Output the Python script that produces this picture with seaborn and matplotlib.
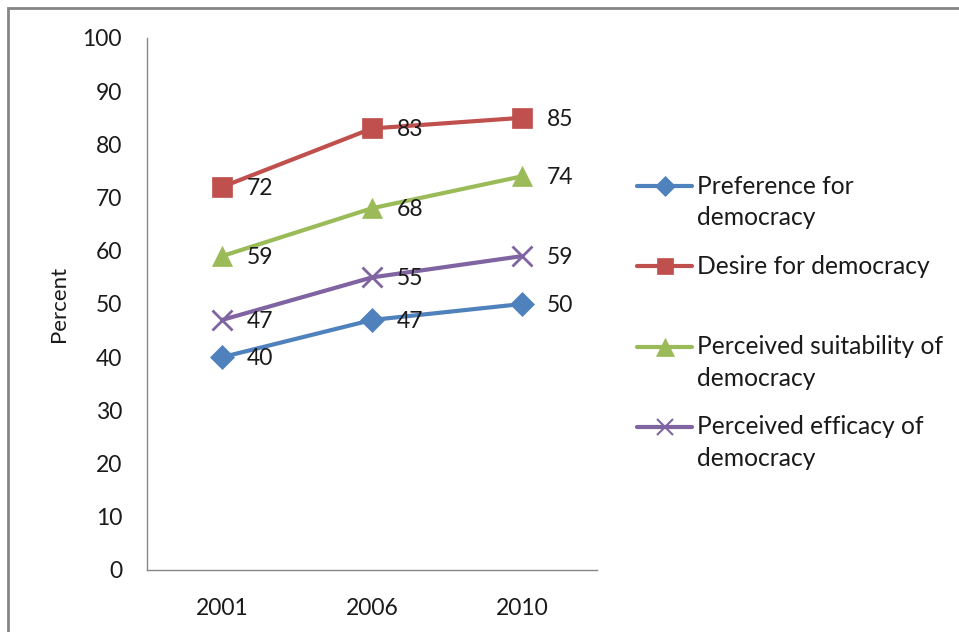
import matplotlib
matplotlib.use("Agg")
import matplotlib.pyplot as plt
from matplotlib.patches import Rectangle
from matplotlib.lines import Line2D
import seaborn as sns
import pandas as pd

years = ["2001", "2006", "2010"]
series_names = [
    "Preference for democracy",
    "Desire for democracy",
    "Perceived suitability of democracy",
    "Perceived efficacy of democracy",
]
legend_lines = [
    ["Preference for", "democracy"],
    ["Desire for democracy"],
    ["Perceived suitability of", "democracy"],
    ["Perceived efficacy of", "democracy"],
]
preference = [40, 47, 50]
desire = [72, 83, 85]
suitability = [59, 68, 74]
efficacy = [47, 55, 59]

colors = ["#4F81BD", "#C0504D", "#9BBB59", "#8064A2"]
markers = ["D", "s", "^", "x"]
marker_sizes = [12, 14, 15, 14]

values = [preference, desire, suitability, efficacy]
rows = []
for name, vals in zip(series_names, values):
    for i, (yr, v) in enumerate(zip(years, vals)):
        rows.append({"series": name, "pos": i, "year": yr, "value": v})
df = pd.DataFrame(rows)

sns.set_theme(style="white")
plt.rcParams["font.family"] = ["Lato", "DejaVu Sans"]
TXT = "#1a1a1a"

W, H = 959, 632
fig = plt.figure(figsize=(W / 100, H / 100), dpi=100)
ax = fig.add_axes([147 / W, 1 - 570 / H, 450 / W, 532 / H])

for name, col, mk, ms in zip(series_names, colors, markers, marker_sizes):
    sub = df[df["series"] == name]
    sns.lineplot(data=sub, x="pos", y="value", ax=ax, color=col, linewidth=3,
                 marker=mk, markersize=ms, markeredgecolor=col,
                 markeredgewidth=2 if mk == "x" else 0.5, legend=False)
    for _, r in sub.iterrows():
        ax.annotate(f"{r['value']}", (r["pos"], r["value"]), xytext=(18, -1),
                    textcoords="offset points", ha="left", va="center",
                    fontsize=16.5, color=TXT)

ax.set_xlim(-0.5, len(years) - 0.5)
ax.set_ylim(0, 100)
ax.set_xticks(range(len(years)))
ax.set_xticklabels(years)
ax.set_yticks(range(0, 101, 10))
ax.tick_params(axis="both", length=0, labelsize=16.5, colors=TXT)
ax.tick_params(axis="y", pad=18)
ax.tick_params(axis="x", pad=20)
ax.set_xlabel("")
ax.set_ylabel("Percent", fontsize=16, color=TXT, labelpad=10)
for side in ["top", "right"]:
    ax.spines[side].set_visible(False)
for side in ["left", "bottom"]:
    ax.spines[side].set_color("#888888")
    ax.spines[side].set_linewidth(1)

# legend keys: one row per series, first text line level with the key
key_rows = [186, 266, 347, 427]
line_step = 31
for col, mk, ms, lines, yrow in zip(colors, markers, marker_sizes,
                                      legend_lines, key_rows):
    yf = 1 - yrow / H
    fig.add_artist(Line2D([637 / W, 692 / W], [yf, yf], color=col, lw=3,
                          transform=fig.transFigure))
    fig.add_artist(Line2D([664.5 / W], [yf], color=col, marker=mk,
                          markersize=ms * 0.85, markeredgecolor=col,
                          markeredgewidth=1.5 if mk == "x" else 0.5,
                          transform=fig.transFigure))
    for k, txt in enumerate(lines):
        fig.text(697 / W, 1 - (yrow + k * line_step) / H, txt, ha="left",
                 va="center", fontsize=17.7, color=TXT)

fig.patches.append(Rectangle((8 / W, -0.1), 1.2, 1 - 8 / H + 0.1,
                             transform=fig.transFigure, fill=False,
                             edgecolor="#868686", linewidth=2))

fig.savefig("out.png", dpi=100, facecolor="white")
